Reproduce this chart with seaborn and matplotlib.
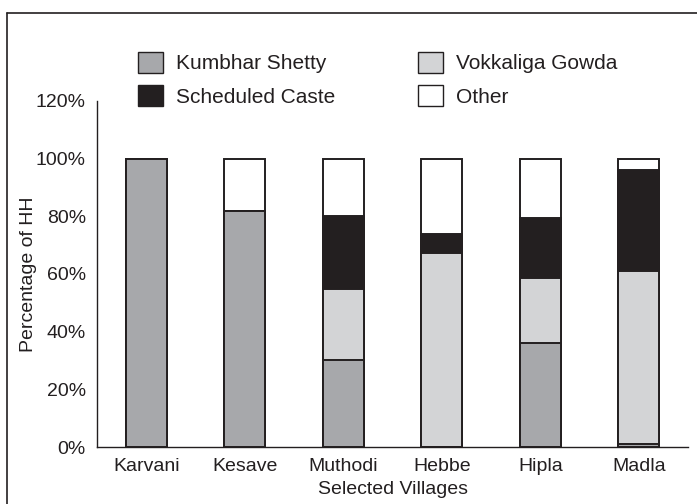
import matplotlib
matplotlib.use("Agg")
import matplotlib.pyplot as plt
import seaborn as sns
import pandas as pd
import numpy as np
from matplotlib.patches import Patch
from matplotlib.lines import Line2D

villages = ["Karvani", "Kesave", "Muthodi", "Hebbe", "Hipla", "Madla"]
kumbhar_shetty = [100.0, 81.8, 30.1, 0.0, 35.9, 1.0]
vokkaliga_gowda = [0.0, 0.0, 24.8, 67.2, 22.8, 60.0]
scheduled_caste = [0.0, 0.0, 25.3, 6.5, 20.6, 35.2]
other = [0.0, 18.2, 19.8, 26.3, 20.7, 3.8]

series_names = ["Kumbhar Shetty", "Vokkaliga Gowda", "Scheduled Caste", "Other"]
series_vals = [kumbhar_shetty, vokkaliga_gowda, scheduled_caste, other]
colors = ["#a7a8ab", "#d3d4d6", "#231f20", "#ffffff"]
edge = "#231f20"

FS = 14
LFS = 15
sns.set_style("white")
plt.rcParams["font.family"] = ["Liberation Sans", "DejaVu Sans"]
plt.rcParams["font.size"] = FS

fig = plt.figure(figsize=(6.97, 5.04), dpi=100)
ax = fig.add_axes([97 / 697, 1 - 447 / 504, (688 - 97) / 697, (447 - 101) / 504])

df = pd.DataFrame({"village": villages})
cum = np.zeros(len(villages))
cums = []
for vals in series_vals:
    cum = cum + np.array(vals)
    cums.append(cum.copy())

# draw cumulative totals back to front
for name, c, col in reversed(list(zip(series_names, cums, colors))):
    d = df.copy()
    d["value"] = c / 100.0
    sns.barplot(data=d, x="village", y="value", color=col, edgecolor=edge,
                linewidth=1.4, width=0.42, saturation=1, ax=ax, zorder=2)

ax.set_ylim(0, 1.2)
ax.set_xlim(-0.5, 5.5)
ax.set_yticks(np.arange(0, 1.21, 0.2))
ax.set_yticklabels([f"{int(round(v * 100))}%" for v in np.arange(0, 1.21, 0.2)])
ax.set_xticks(range(len(villages)))
ax.set_xticklabels(villages)
ax.set_xticks(np.arange(-0.5, 5.6, 1.0), minor=True)
ax.tick_params(axis="x", which="major", length=0, pad=8)
ax.tick_params(axis="x", which="minor", length=5, width=1, color=edge, direction="out")
ax.tick_params(axis="y", length=5, width=1, color=edge, direction="out", pad=3)
ax.tick_params(labelsize=FS, labelcolor="#231f20")
for s in ["top", "right"]:
    ax.spines[s].set_visible(False)
for s in ["left", "bottom"]:
    ax.spines[s].set_color(edge)
    ax.spines[s].set_linewidth(1.0)
ax.set_xlabel("Selected Villages", fontsize=FS, color="#231f20", labelpad=4)
ax.set_ylabel("Percentage of HH", fontsize=FS, color="#231f20", labelpad=-1)

handles = [Patch(facecolor=colors[0], edgecolor=edge, linewidth=1, label=series_names[0]),
           Patch(facecolor=colors[2], edgecolor=edge, linewidth=1, label=series_names[2]),
           Patch(facecolor=colors[1], edgecolor=edge, linewidth=1, label=series_names[1]),
           Patch(facecolor=colors[3], edgecolor=edge, linewidth=1, label=series_names[3])]
fig.legend(handles=handles, ncol=2, frameon=False, loc="upper left",
           bbox_to_anchor=(119 / 697, 1 - 33 / 504), handlelength=1.2,
           handleheight=1.2, handletextpad=0.62, columnspacing=4.0,
           labelspacing=0.55, fontsize=LFS, labelcolor="#231f20")

# outer frame (left and top edges visible)
fig.add_artist(Line2D([7 / 697, 7 / 697], [0, 1 - 13 / 504], color=edge, lw=1.2,
                      transform=fig.transFigure))
fig.add_artist(Line2D([7 / 697, 1], [1 - 13 / 504, 1 - 13 / 504], color=edge, lw=1.2,
                      transform=fig.transFigure))

fig.savefig("out.png", dpi=100)
